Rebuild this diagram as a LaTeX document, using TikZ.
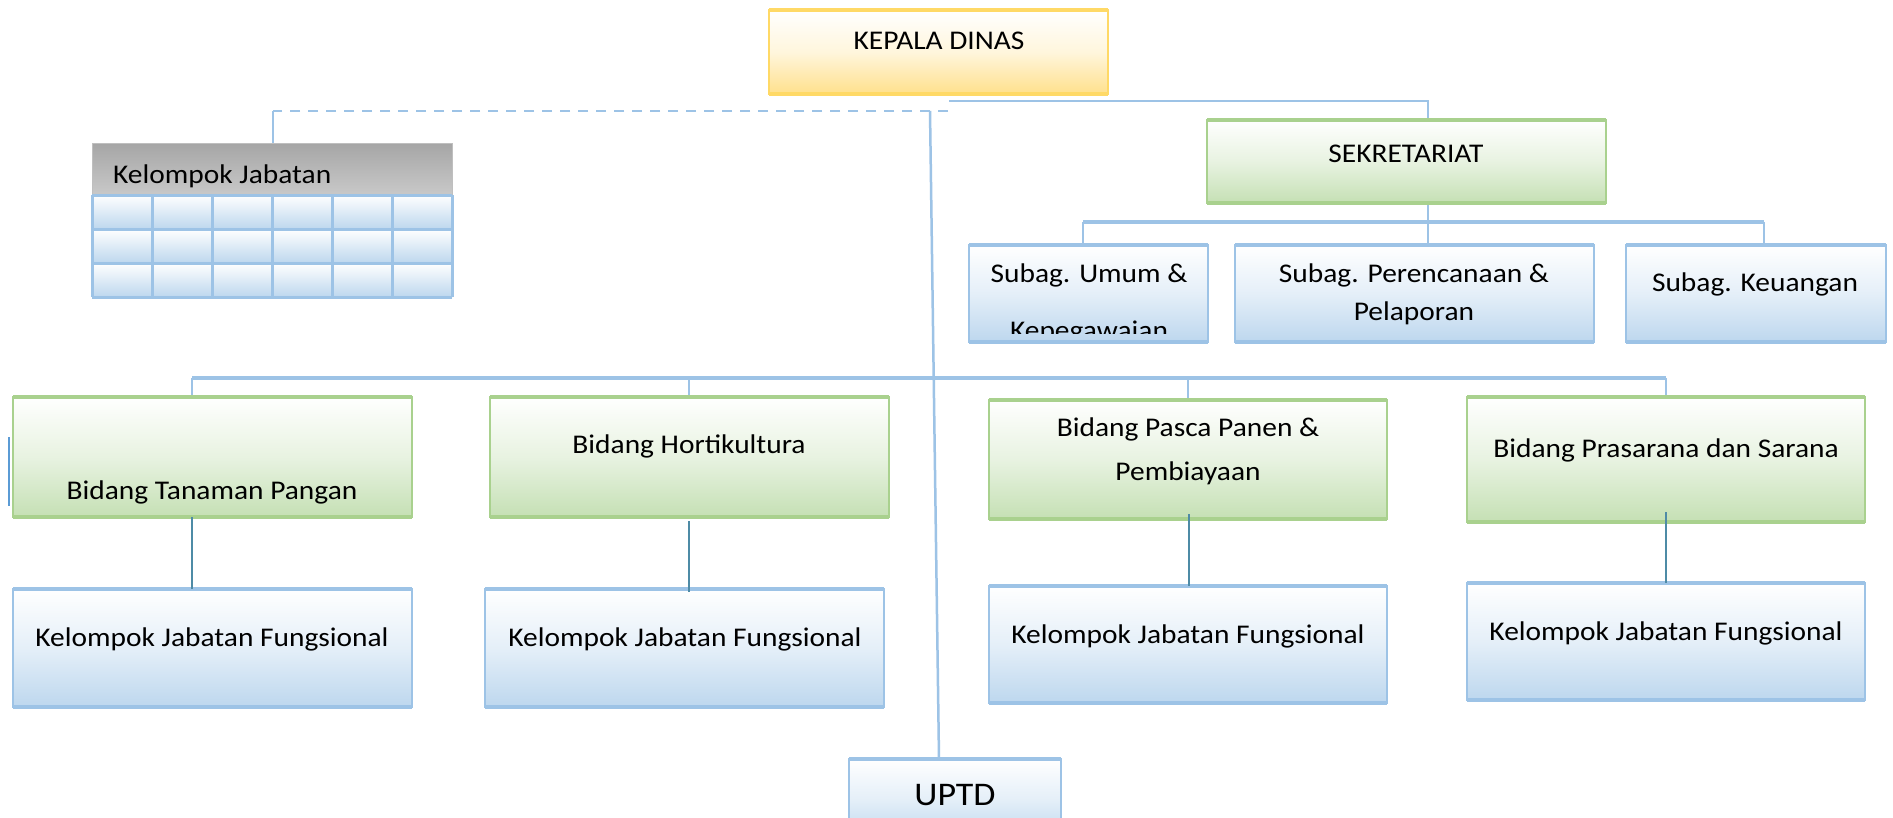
\documentclass[tikz,border=0pt]{standalone}
\usepackage{fontspec}
\setmainfont{Carlito}[FakeStretch=1.09]
\usetikzlibrary{calc}
\definecolor{lnblue}{HTML}{9DC3E6}
\definecolor{darkln}{HTML}{4E8BA6}
\definecolor{strayln}{HTML}{5B9BD5}
\definecolor{goldB}{HTML}{FFD966}
\definecolor{goldF}{HTML}{FFE08C}
\definecolor{greenB}{HTML}{A9D18E}
\definecolor{greenF}{HTML}{C5E0B4}
\definecolor{blueB}{HTML}{9DC3E6}
\definecolor{blueF}{HTML}{BDD7EE}
\definecolor{grayT}{HTML}{A6A6A6}
\definecolor{grayBt}{HTML}{C9C9C9}
\definecolor{grayB}{HTML}{BFBFBF}
\tikzset{
  goldbox/.style={top color=white, bottom color=goldF, middle color=goldF!30!white, draw=goldB},
  greenbox/.style={top color=white, bottom color=greenF, middle color=greenF!40!white, draw=greenB},
  bluebox/.style={top color=white, bottom color=blueF, middle color=blueF!40!white, draw=blueB},
  txt/.style={font=\fontsize{27}{31}\selectfont, inner sep=0pt, anchor=base, text=black},
  conn/.style={lnblue, line width=2.5pt},
  barln/.style={lnblue, line width=3.5pt},
  dkln/.style={darkln, line width=2pt},
}
\newcommand\obox[7]{%
  \node[#6, line width=1.5pt, inner sep=0pt, outer sep=0pt,
        minimum width={(#4)-(#2)}, minimum height={(#5)-(#3)}, anchor=north west] (#1) at (#2,#3) {};
  \draw[line width=4pt, #7] (#1.north west) -- (#1.north east) (#1.south west) -- (#1.south east);
}
\begin{document}
\begin{tikzpicture}[x=1pt, y=-1pt]
\useasboundingbox (0,0) rectangle (1893,817);
\clip (0,0) rectangle (1893,817);
\fill[white] (0,0) rectangle (1893,817);

% ---- junction coordinates
\coordinate (kdR) at (949,101);
\coordinate (kdL) at (948,111);
\coordinate (sekIn) at (1428,120);
\coordinate (kjIn) at (273,143);
\coordinate (uTop) at (930,111);
\coordinate (uBot) at (939,759);
\coordinate (sekOut) at (1428,203);
\coordinate (perIn) at (1428,246);
\coordinate (sbL) at (1083,222);
\coordinate (sbR) at (1764,222);
\coordinate (umIn) at (1083,246);
\coordinate (keIn) at (1764,246);
\coordinate (bbL) at (192,378);
\coordinate (bbR) at (1666,378);
\coordinate (b1In) at (192,397);
\coordinate (bb2) at (689,378);
\coordinate (bb3) at (1188,378);
\coordinate (b2In) at (689,397);
\coordinate (b3In) at (1188,400);
\coordinate (b4In) at (1666,397);
\coordinate (d1a) at (192,517);  \coordinate (d1b) at (192,589);
\coordinate (d2a) at (689,521);  \coordinate (d2b) at (689,592);
\coordinate (d3a) at (1189,514); \coordinate (d3b) at (1189,586);
\coordinate (d4a) at (1666,512); \coordinate (d4b) at (1666,583);

% ---- connectors (under the boxes)
\draw[conn] (kdR) -| (sekIn);
\draw[conn, dash pattern=on 10pt off 8pt] (kdL) -- (kdL -| kjIn);
\draw[conn] (kdL -| kjIn) -- (kjIn);
\draw[conn] (uTop) -- (uBot);
\draw[conn] (sekOut) -- (perIn);
\draw[barln] (sbL) -- (sbR);
\draw[conn] (sbL) -- (umIn);
\draw[conn] (sbR) -- (keIn);
\draw[barln] (bbL) -- (bbR);
\draw[conn] (bbL) -- (b1In);
\draw[conn] (bb2) -- (b2In);
\draw[conn] (bb3) -- (b3In);
\draw[conn] (bbR) -- (b4In);
\draw[strayln, line width=2pt] (9,437) -- (9,506);

% ---- boxes
\obox{kd}{769}{10}{1108}{94}{goldbox}{goldB}
\obox{sek}{1207}{120}{1606}{203}{greenbox}{greenB}
\obox{umum}{969}{245}{1208}{342}{bluebox}{blueB}
\obox{per}{1235}{245}{1594}{342}{bluebox}{blueB}
\obox{keu}{1626}{245}{1886}{342}{bluebox}{blueB}
\obox{b1}{13}{397}{412}{517}{greenbox}{greenB}
\obox{b2}{490}{397}{889}{517}{greenbox}{greenB}
\obox{b3}{989}{400}{1387}{519}{greenbox}{greenB}
\obox{b4}{1467}{397}{1865}{522}{greenbox}{greenB}
\obox{k1}{13}{589}{412}{707}{bluebox}{blueB}
\obox{k2}{485}{589}{884}{707}{bluebox}{blueB}
\obox{k3}{989}{586}{1387}{703}{bluebox}{blueB}
\obox{k4}{1467}{583}{1865}{700}{bluebox}{blueB}
\obox{uptd}{849}{759}{1061}{840}{bluebox}{blueB}

% ---- Kelompok Jabatan table
\node[top color=grayT, bottom color=grayBt, draw=grayB, line width=1pt, inner sep=0pt,
      minimum width=360pt, minimum height=52pt, anchor=north west] (kj) at (92,143) {};
\foreach \r in {0,1,2}{\foreach \c in {0,...,5}{
  \shade[top color=white, bottom color=blueF] ({92+60*\c},{195+34*\r}) rectangle ({152+60*\c},{229+34*\r});
}}
\foreach \c in {0,...,6}{\draw[lnblue, line width=3pt] ({92+60*\c},195) -- ({92+60*\c},297);}
\foreach \r in {0,...,3}{\draw[lnblue, line width=3pt] (92,{195+34*\r}) -- (452,{195+34*\r});}

% ---- dark connectors
\draw[dkln] (d1a) -- (d1b);
\draw[dkln] (d2a) -- (d2b);
\draw[dkln] (d3a) -- (d3b);
\draw[dkln] (d4a) -- (d4b);

% ---- texts
\node[txt] (tkd) at (939,49) {KEPALA DINAS};
\node[txt] (tsek) at (1406,162) {SEKRETARIAT};
\node[txt, anchor=base west] (tkj) at (113,183) {Kelompok Jabatan};
\node[txt] (tum1) at (1089,282) {Subag. Umum \&};
\begin{scope}
  \clip (969,245) rectangle (1208,333);
  \node[txt] (tum2) at (1089,339) {Kepegawaian};
\end{scope}
\node[txt] (tpe1) at (1414,282) {Subag. Perencanaan \&};
\node[txt] (tpe2) at (1414,320) {Pelaporan};
\node[txt] (tke) at (1755,291) {Subag. Keuangan};
\node[txt] (tb1) at (212,499) {Bidang Tanaman Pangan};
\node[txt] (tb2) at (689,453) {Bidang Hortikultura};
\node[txt] (tb3a) at (1188,436) {Bidang Pasca Panen \&};
\node[txt] (tb3b) at (1188,480) {Pembiayaan};
\node[txt] (tb4) at (1666,457) {Bidang Prasarana dan Sarana};
\node[txt] (tk1) at (212,646) {Kelompok Jabatan Fungsional};
\node[txt] (tk2) at (685,646) {Kelompok Jabatan Fungsional};
\node[txt] (tk3) at (1188,643) {Kelompok Jabatan Fungsional};
\node[txt] (tk4) at (1666,640) {Kelompok Jabatan Fungsional};
\node[txt, font=\fontsize{33}{38}\selectfont] (tup) at (955,805) {UPTD};
\end{tikzpicture}
\end{document}
